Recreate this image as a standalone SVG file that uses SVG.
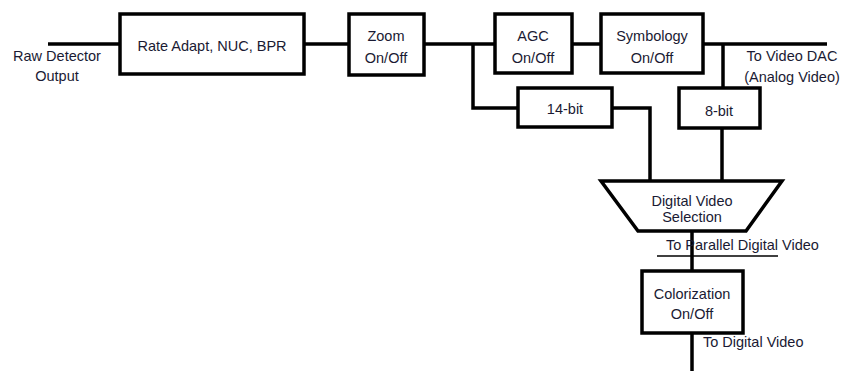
<svg xmlns="http://www.w3.org/2000/svg" width="842" height="371" viewBox="0 0 842 371">
<style>
.box{fill:#fff;stroke:#000;stroke-width:3.5}
.ln{fill:none;stroke:#000;stroke-width:3.5}
.thin{fill:none;stroke:#000;stroke-width:1.5}
text{font-family:"Liberation Sans",Arial,sans-serif;font-size:14.5px;fill:#1a1a33;text-anchor:middle}
.l{text-anchor:start}
</style>
<rect width="842" height="371" fill="#fff"/>
<g id="connectors">
<path class="ln" d="M48 44H120"/>
<path class="ln" d="M304 44H349"/>
<path class="ln" d="M424 44H495"/>
<path class="ln" d="M473 44V108H518"/>
<path class="ln" d="M612 108H650V181"/>
<path class="ln" d="M572 44H601"/>
<path class="ln" d="M703 44H827"/>
<path class="ln" d="M723 44V88"/>
<path class="ln" d="M722 128V181"/>
<path class="ln" d="M692 231V271"/>
<path class="thin" d="M657 256H778"/>
<path class="ln" d="M692 333V371"/>
</g>
<g id="raw"><text x="57" y="61">Raw Detector</text><text x="57" y="81">Output</text></g>
<g id="rate"><rect class="box" x="120" y="14" width="184" height="60"/><text x="212" y="51">Rate Adapt, NUC, BPR</text></g>
<g id="zoom"><rect class="box" x="349" y="14" width="75" height="61"/><text x="386" y="41">Zoom</text><text x="386" y="63">On/Off</text></g>
<g id="agc"><rect class="box" x="495" y="14" width="77" height="59"/><text x="533" y="41">AGC</text><text x="533" y="63">On/Off</text></g>
<g id="symbology"><rect class="box" x="601" y="14" width="102" height="59"/><text x="652" y="41">Symbology</text><text x="652" y="63">On/Off</text></g>
<g id="dac"><text x="792" y="61">To Video DAC</text><text x="792" y="82">(Analog Video)</text></g>
<g id="bit14"><rect class="box" x="518" y="88" width="94" height="39"/><text x="565" y="114">14-bit</text></g>
<g id="bit8"><rect class="box" x="679" y="88" width="81" height="40"/><text x="719" y="116">8-bit</text></g>
<g id="selection"><polygon class="box" points="601,181 782,181 746,231 638,231"/><text x="692" y="206">Digital Video</text><text x="692" y="222">Selection</text></g>
<g id="parallel"><text class="l" x="666" y="250">To Parallel Digital Video</text></g>
<g id="colorization"><rect class="box" x="642" y="271" width="101" height="62"/><text x="692" y="299">Colorization</text><text x="692" y="319">On/Off</text></g>
<g id="digital"><text class="l" x="703" y="347">To Digital Video</text></g>
</svg>
